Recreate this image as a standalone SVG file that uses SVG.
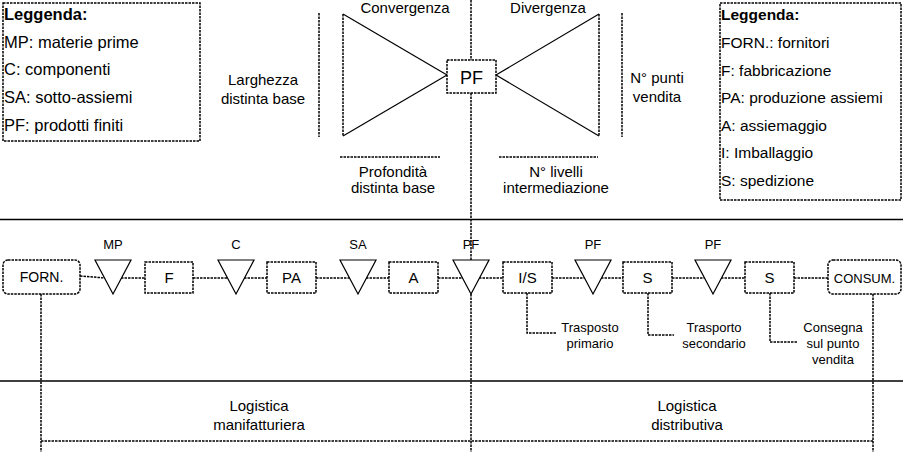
<svg xmlns="http://www.w3.org/2000/svg" width="903" height="452" viewBox="0 0 903 452">
<style>
text{font-family:"Liberation Sans",Arial,sans-serif;fill:#000}
.t15{font-size:15px}
.t13{font-size:13px}
.lg{font-size:16.5px}
.c{text-anchor:middle}
.b{font-weight:bold}
.d{fill:none;stroke:#000;stroke-width:1.5;stroke-dasharray:2.5 1}
.db{fill:#fff;stroke:#000;stroke-width:1.5;stroke-dasharray:2.5 1}
.s{fill:none;stroke:#000;stroke-width:1.2}
.tri{fill:#fff;stroke:#000;stroke-width:1.2}
.sep{stroke:#000;stroke-width:1.6}
</style>
<rect width="903" height="452" fill="#fff"/>

<g id="separators">
<line class="sep" x1="0" y1="219.5" x2="903" y2="219.5"/>
<line class="sep" x1="0" y1="381" x2="903" y2="381"/>
</g>

<g id="legend-left">
<rect class="d" x="3" y="3" width="197" height="138"/>
<text class="lg b" x="4" y="20">Leggenda:</text>
<text class="lg" x="4" y="48">MP: materie prime</text>
<text class="lg" x="4" y="75">C: componenti</text>
<text class="lg" x="4" y="103">SA: sotto-assiemi</text>
<text class="lg" x="4" y="131">PF: prodotti finiti</text>
</g>

<g id="legend-right">
<rect class="d" x="720" y="3" width="181" height="197"/>
<text class="t15 b" x="721" y="20" style="font-size:15.5px">Leggenda:</text>
<text class="t15" x="721" y="48" style="font-size:15.5px">FORN.: fornitori</text>
<text class="t15" x="721" y="76" style="font-size:15.5px">F: fabbricazione</text>
<text class="t15" x="721" y="103" style="font-size:15.5px">PA: produzione assiemi</text>
<text class="t15" x="721" y="131" style="font-size:15.5px">A: assiemaggio</text>
<text class="t15" x="721" y="158" style="font-size:15.5px">I: Imballaggio</text>
<text class="t15" x="721" y="186" style="font-size:15.5px">S: spedizione</text>
</g>

<g id="bowtie">
<line class="d" x1="319" y1="13" x2="319" y2="137"/>
<line class="d" x1="343" y1="14" x2="343" y2="136"/>
<line class="s" x1="343" y1="14" x2="447" y2="75"/>
<line class="s" x1="343" y1="136" x2="447" y2="75"/>
<line class="d" x1="599" y1="14" x2="599" y2="136"/>
<line class="s" x1="599" y1="14" x2="496" y2="75"/>
<line class="s" x1="599" y1="136" x2="496" y2="75"/>
<line class="d" x1="622" y1="13" x2="622" y2="137"/>
<line class="d" x1="340" y1="157" x2="440" y2="157"/>
<line class="d" x1="499" y1="157" x2="598" y2="157"/>
<text class="t15 c" x="405" y="13">Convergenza</text>
<text class="t15 c" x="548" y="13">Divergenza</text>
<text class="t15 c" x="263" y="85">Larghezza</text>
<text class="t15 c" x="263" y="104">distinta base</text>
<text class="t15 c" x="657" y="83">N° punti</text>
<text class="t15 c" x="657" y="102">vendita</text>
<text class="t15 c" x="393" y="177">Profondità</text>
<text class="t15 c" x="393" y="193">distinta base</text>
<text class="t15 c" x="556" y="177">N° livelli</text>
<text class="t15 c" x="556" y="193">intermediazione</text>
</g>

<g id="connectors">
<line class="d" x1="471" y1="0" x2="471" y2="60"/>
<line class="d" x1="471" y1="93" x2="471" y2="260"/>
<line class="d" x1="471" y1="294" x2="471" y2="452"/>
<line class="d" x1="41" y1="294" x2="41" y2="452"/>
<line class="d" x1="873" y1="294" x2="873" y2="452"/>
<line class="d" x1="41" y1="441" x2="873" y2="441"/>
<line class="d" x1="80" y1="276" x2="105" y2="278"/>
<line class="d" x1="121" y1="278" x2="145" y2="278"/>
<line class="d" x1="193" y1="278" x2="228" y2="278"/>
<line class="d" x1="244" y1="278" x2="267" y2="278"/>
<line class="d" x1="316" y1="278" x2="350" y2="278"/>
<line class="d" x1="366" y1="278" x2="389" y2="278"/>
<line class="d" x1="438" y1="278" x2="463" y2="278"/>
<line class="d" x1="479" y1="278" x2="503" y2="278"/>
<line class="d" x1="552" y1="278" x2="585" y2="278"/>
<line class="d" x1="601" y1="278" x2="623" y2="278"/>
<line class="d" x1="672" y1="278" x2="705" y2="278"/>
<line class="d" x1="721" y1="278" x2="745" y2="278"/>
<line class="d" x1="794" y1="278" x2="828" y2="278"/>
<polyline class="d" points="527,293 527,333 557,333"/>
<polyline class="d" points="648,293 648,335 674,335"/>
<polyline class="d" points="770,293 770,342 797,342"/>
</g>

<g id="node-PF-center">
<rect class="db" x="447" y="60" width="49" height="33"/>
<text class="c" x="471.5" y="84" font-size="18">PF</text>
</g>

<g id="node-FORN">
<rect class="db" x="3" y="260" width="77" height="34" rx="5"/>
<text class="c" x="41.5" y="282" font-size="14">FORN.</text>
</g>
<g id="node-MP">
<polygon class="tri" points="95,260 131,260 113,294"/>
<text class="t13 c" x="113" y="249">MP</text>
</g>
<g id="node-F">
<rect class="db" x="145" y="262" width="48" height="31"/>
<text class="t15 c" x="169" y="283">F</text>
</g>
<g id="node-C">
<polygon class="tri" points="218,260 254,260 236,294"/>
<text class="t13 c" x="236" y="249">C</text>
</g>
<g id="node-PA">
<rect class="db" x="267" y="262" width="49" height="31"/>
<text class="t15 c" x="291.5" y="283">PA</text>
</g>
<g id="node-SA">
<polygon class="tri" points="340,260 376,260 358,294"/>
<text class="t13 c" x="358" y="249">SA</text>
</g>
<g id="node-A">
<rect class="db" x="389" y="262" width="49" height="31"/>
<text class="t15 c" x="413.5" y="283">A</text>
</g>
<g id="node-PF1">
<polygon class="tri" points="453,260 489,260 471,294"/>
<text class="t13 c" x="471" y="249">PF</text>
</g>
<g id="node-IS">
<rect class="db" x="503" y="262" width="49" height="31"/>
<text class="t15 c" x="527.5" y="283">I/S</text>
</g>
<g id="node-PF2">
<polygon class="tri" points="575,260 611,260 593,294"/>
<text class="t13 c" x="593" y="249">PF</text>
</g>
<g id="node-S1">
<rect class="db" x="623" y="262" width="49" height="31"/>
<text class="t15 c" x="647.5" y="283">S</text>
</g>
<g id="node-PF3">
<polygon class="tri" points="695,260 731,260 713,294"/>
<text class="t13 c" x="713" y="249">PF</text>
</g>
<g id="node-S2">
<rect class="db" x="745" y="262" width="49" height="31"/>
<text class="t15 c" x="769.5" y="283">S</text>
</g>
<g id="node-CONSUM">
<rect class="db" x="828" y="260" width="73" height="34" rx="5"/>
<text class="t13 c" x="864.5" y="283">CONSUM.</text>
</g>

<g id="labels">
<text class="t13 c" x="590" y="332">Trasposto</text>
<text class="t13 c" x="590" y="348">primario</text>
<text class="t13 c" x="714" y="332">Trasporto</text>
<text class="t13 c" x="714" y="348">secondario</text>
<text class="t13 c" x="833" y="332">Consegna</text>
<text class="t13 c" x="833" y="348">sul punto</text>
<text class="t13 c" x="833" y="364">vendita</text>
<text class="t15 c" x="259" y="411">Logistica</text>
<text class="t15 c" x="259" y="430">manifatturiera</text>
<text class="t15 c" x="687" y="411">Logistica</text>
<text class="t15 c" x="687" y="430">distributiva</text>
</g>
</svg>
